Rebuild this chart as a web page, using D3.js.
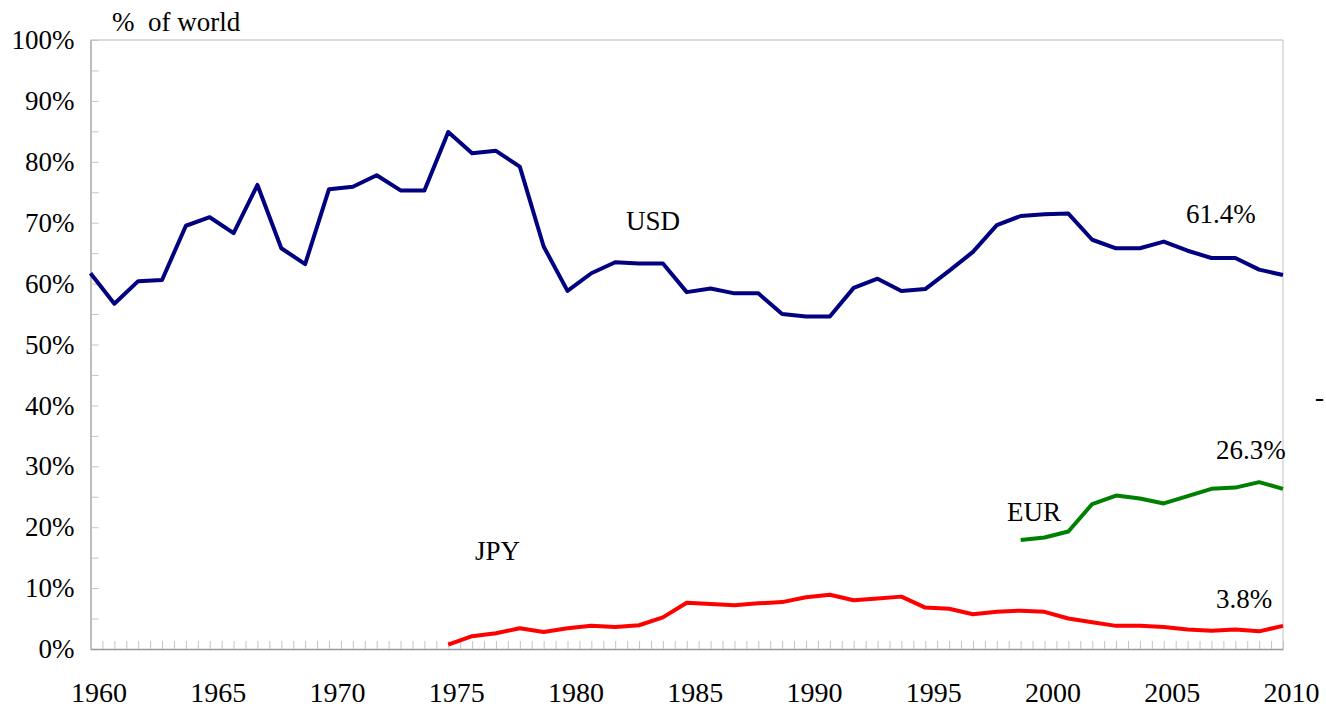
<!DOCTYPE html>
<html lang="en">
<head>
    <meta charset="UTF-8">
    <title>Currency shares - D3</title>
    <script src="https://d3js.org/d3.v7.min.js"></script>
    <style>
        body { margin: 0; background: #fff; }
        svg { display: block; }
        text { font-family: "Liberation Serif", "Times New Roman", serif; fill: #000; }
        .axis path { stroke: #999; stroke-width: 1.3; }
        .axis line { stroke: #c4c4c4; stroke-width: 1; }
        .axis text { font-size: 27px; }
        .x-axis text { font-size: 28px; }
        .frame { stroke: #cfcfcf; stroke-width: 1.3; }
        .series { fill: none; stroke-width: 4; stroke-linejoin: round; }
        .note { font-size: 27px; white-space: pre; }
    </style>
</head>
<body>
<svg width="1326" height="707"></svg>
<script>
    // share of world total (%), one value per year
    const usdYears = d3.range(1960, 2011);
    const usd = [61.7, 56.7, 60.4, 60.6, 69.5, 70.9, 68.3, 76.2, 65.8, 63.2,
                 75.5, 75.9, 77.8, 75.3, 75.3, 84.9, 81.4, 81.8, 79.2, 66.1,
                 58.8, 61.7, 63.5, 63.3, 63.3, 58.6, 59.2, 58.4, 58.4, 55.0,
                 54.6, 54.6, 59.3, 60.8, 58.8, 59.1, 62.1, 65.2, 69.6, 71.1,
                 71.4, 71.5, 67.2, 65.8, 65.8, 66.9, 65.4, 64.2, 64.2, 62.3, 61.4];

    const jpyYears = d3.range(1975, 2011);
    const jpy = [0.7, 2.1, 2.6, 3.4, 2.8, 3.4, 3.8, 3.6, 3.9, 5.2,
                 7.6, 7.4, 7.2, 7.5, 7.7, 8.5, 8.9, 8.0, 8.3, 8.6,
                 6.8, 6.6, 5.7, 6.1, 6.3, 6.1, 5.0, 4.4, 3.8, 3.8,
                 3.6, 3.2, 3.0, 3.2, 2.9, 3.8];

    const eurYears = d3.range(1999, 2011);
    const eur = [17.9, 18.3, 19.3, 23.8, 25.2, 24.7, 23.9, 25.1, 26.3, 26.5, 27.4, 26.3];

    const yTicks = d3.range(0, 101, 5);
    const xTicks = d3.range(1960, 2010.01, 0.5);

    const svg = d3.select("svg");
    const plotLeft = 90.5, plotRight = 1283, plotTop = 40, plotBottom = 649;

    const x = d3.scaleLinear().domain([1960, 2010]).range([plotLeft, plotRight]);
    const y = d3.scaleLinear().domain([0, 100]).range([plotBottom, plotTop]);

    // top and right frame
    svg.append("line").attr("class", "frame")
        .attr("x1", plotLeft).attr("x2", plotRight).attr("y1", y(100)).attr("y2", y(100));
    svg.append("line").attr("class", "frame")
        .attr("x1", plotRight).attr("x2", plotRight).attr("y1", y(100)).attr("y2", y(0));

    svg.append("g")
        .attr("class", "axis y-axis")
        .attr("transform", `translate(${plotLeft},0)`)
        .call(d3.axisLeft(y).tickValues(yTicks).tickSize(-8).tickSizeOuter(0).tickPadding(16)
            .tickFormat(d => d % 10 === 0 ? d + "%" : ""));

    svg.append("g")
        .attr("class", "axis x-axis")
        .attr("transform", `translate(0,${plotBottom})`)
        .call(d3.axisBottom(x).tickValues(xTicks).tickSize(-8).tickSizeOuter(0).tickPadding(33)
            .tickFormat(d => d % 5 === 0 ? d : ""))
        .selectAll("text").attr("dx", 8);

    svg.selectAll(".domain").attr("stroke", "#999");

    const line = d3.line().x(d => x(d[0])).y(d => y(d[1]));

    svg.append("path").attr("class", "series")
        .attr("stroke", "#000080")
        .attr("d", line(d3.zip(usdYears, usd)));
    svg.append("path").attr("class", "series")
        .attr("stroke", "#ff0000")
        .attr("d", line(d3.zip(jpyYears, jpy)));
    svg.append("path").attr("class", "series")
        .attr("stroke", "#008000")
        .attr("d", line(d3.zip(eurYears, eur)));

    // labels
    const notes = [
        ["%  of world", 112, 31],
        ["USD", 626, 230],
        ["61.4%", 1186, 223],
        ["26.3%", 1216, 459],
        ["EUR", 1007, 521],
        ["JPY", 475, 560],
        ["3.8%", 1216, 608],
        ["-", 1315, 406]
    ];
    svg.selectAll(".note")
        .data(notes)
        .enter().append("text")
        .attr("class", "note")
        .attr("x", d => d[1])
        .attr("y", d => d[2])
        .text(d => d[0]);
</script>
</body>
</html>
